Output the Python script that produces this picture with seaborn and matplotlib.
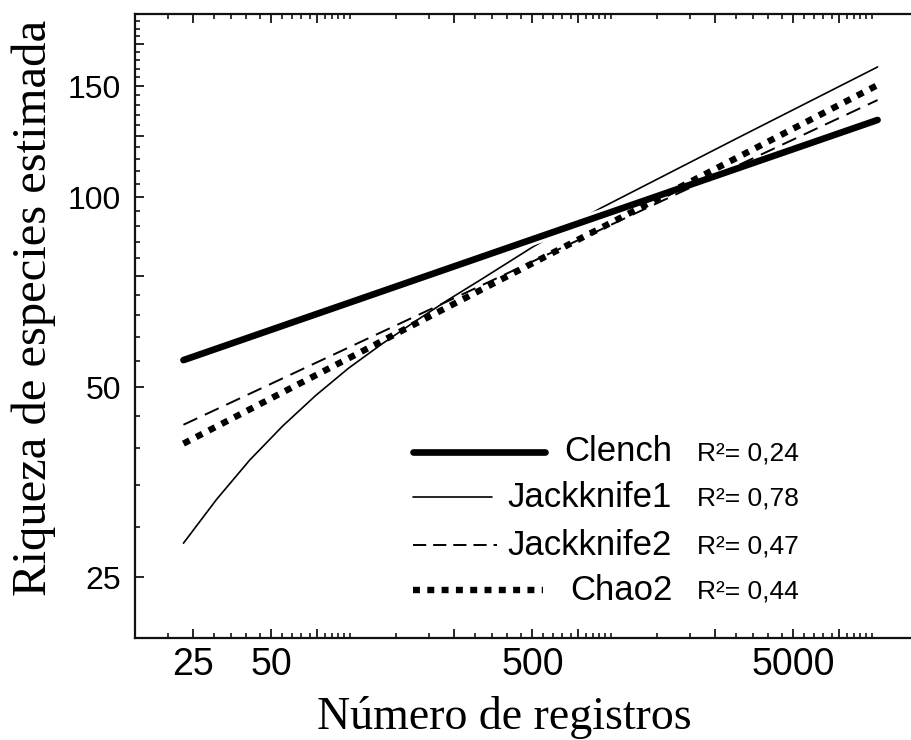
import numpy as np
import pandas as pd
import matplotlib
matplotlib.use("Agg")
import matplotlib.pyplot as plt
import matplotlib.patheffects as pe
from matplotlib.ticker import FixedLocator, FixedFormatter, NullFormatter
import seaborn as sns

# ---------------- data ----------------
x_clench = [23.0, 500.0, 10500.0]
y_clench = [55.2, 85.8, 132.6]

x_jack1 = [23.0, 30.8, 41.2, 55.2, 73.8, 98.7, 132.1, 176.8, 236.5, 316.4, 500.6, 912.0, 3082.0, 10500.0]
y_jack1 = [28.3, 33.2, 38.3, 43.4, 48.5, 53.6, 58.5, 63.5, 68.7, 74.0, 83.4, 96.1, 124.4, 160.9]

x_jack2 = [23.0, 500.0, 10500.0]
y_jack2 = [43.6, 79.1, 142.6]

x_chao2 = [23.0, 500.0, 10500.0]
y_chao2 = [40.7, 78.6, 150.6]

series_names = ["Clench", "Jackknife1", "Jackknife2", "Chao2"]
r2_labels = ["R\u00b2= 0,24", "R\u00b2= 0,78", "R\u00b2= 0,47", "R\u00b2= 0,44"]

xtick_major = [25, 50, 75, 250, 500, 750, 2500, 5000, 7500]
xtick_labels = ["25", "50", "", "", "500", "", "", "5000", ""]
ytick_major = [25, 50, 75, 100, 125, 150, 175]
ytick_labels = ["25", "50", "", "100", "", "150", ""]

x_label = "Número de registros"
y_label = "Riqueza de especies estimada"

# ---------------- style ----------------
sns.set_style("ticks")
plt.rcParams["font.family"] = ["Liberation Sans", "DejaVu Sans"]
plt.rcParams["lines.scale_dashes"] = False
for k in ["text.color", "axes.labelcolor", "xtick.color", "ytick.color", "axes.edgecolor"]:
    plt.rcParams[k] = "black"

fig = plt.figure(figsize=(9.12, 7.4), dpi=100)
ax = fig.add_axes([135 / 912, (740 - 638.3) / 740, 783 / 912, 624 / 740])

sns.lineplot(x=x_jack1, y=y_jack1, ax=ax, color="black", linewidth=1.2,
             estimator=None, sort=False, zorder=2)
sns.lineplot(x=x_clench, y=y_clench, ax=ax, color="black", linewidth=4.8,
             estimator=None, sort=False, zorder=3,
             path_effects=[pe.Stroke(linewidth=9.0, foreground="white"), pe.Normal()])
sns.lineplot(x=x_jack2, y=y_jack2, ax=ax, color="black", linewidth=1.4,
             linestyle=(0, (11, 6)), estimator=None, sort=False, zorder=4)
sns.lineplot(x=x_chao2, y=y_chao2, ax=ax, color="black", linewidth=4.6,
             linestyle=(0, (5.0, 5.3)), dash_capstyle="butt",
             estimator=None, sort=False, zorder=5)

ax.set_xscale("log")
ax.set_yscale("log")
ax.set_xlim(15, 15000)
ax.set_ylim(20, 195)

# ticks
x_minor = sorted({round(m * 10 ** d, 6) for d in (1, 2, 3)
                  for m in np.arange(1.5, 10.01, 0.5)
                  if 15 <= m * 10 ** d <= 10000} - set(xtick_major))
y_minor = [v for v in range(25, 195, 5) if v not in ytick_major]

ax.xaxis.set_major_locator(FixedLocator(xtick_major))
ax.xaxis.set_major_formatter(FixedFormatter(xtick_labels))
ax.xaxis.set_minor_locator(FixedLocator(x_minor))
ax.xaxis.set_minor_formatter(NullFormatter())
ax.yaxis.set_major_locator(FixedLocator(ytick_major))
ax.yaxis.set_major_formatter(FixedFormatter(ytick_labels))
ax.yaxis.set_minor_locator(FixedLocator(y_minor))
ax.yaxis.set_minor_formatter(NullFormatter())

ax.tick_params(which="both", direction="in", top=True, right=False,
               bottom=True, left=True, color="black")
ax.tick_params(which="major", length=6.5, width=1.2, pad=7)
ax.tick_params(which="minor", length=3.5, width=1.1)
ax.tick_params(axis="x", which="major", labelsize=27, pad=6)
ax.tick_params(axis="y", which="major", labelsize=23, pad=10)

for s in ["left", "top", "bottom"]:
    ax.spines[s].set_linewidth(1.6)
    ax.spines[s].set_color("#111111")
ax.spines["right"].set_visible(False)

ax.set_xlabel(x_label, fontsize=33, family=["Liberation Serif", "DejaVu Serif"])
ax.set_ylabel(y_label, fontsize=35, family=["Liberation Serif", "DejaVu Serif"])
ax.xaxis.set_label_coords((504 - 135) / 783, -(696 - 638.3) / 624)
ax.yaxis.set_label_coords(-(135 - 56) / 783, (638.3 - 308) / 624)

# ---------------- custom legend ----------------
row_y = [0.2986, 0.2264, 0.1495, 0.0774]
handle_end = [0.5236, 0.456, 0.4623, 0.521]
handle_styles = [
    dict(linewidth=4.8, linestyle="-"),
    dict(linewidth=1.2, linestyle="-"),
    dict(linewidth=1.4, linestyle=(0, (9.5, 5))),
    dict(linewidth=4.6, linestyle=(0, (5.0, 5.3)), dash_capstyle="butt"),
]
for name, r2, yy, xe, st in zip(series_names, r2_labels, row_y, handle_end, handle_styles):
    ax.plot([0.355, xe], [yy, yy], transform=ax.transAxes, color="black", **st)
    ax.text(0.686, yy, name, transform=ax.transAxes, ha="right", va="center",
            fontsize=25)
    ax.text(0.718, yy - 0.003, r2, transform=ax.transAxes, ha="left", va="center",
            fontsize=19)

fig.savefig("out.png", dpi=100)
